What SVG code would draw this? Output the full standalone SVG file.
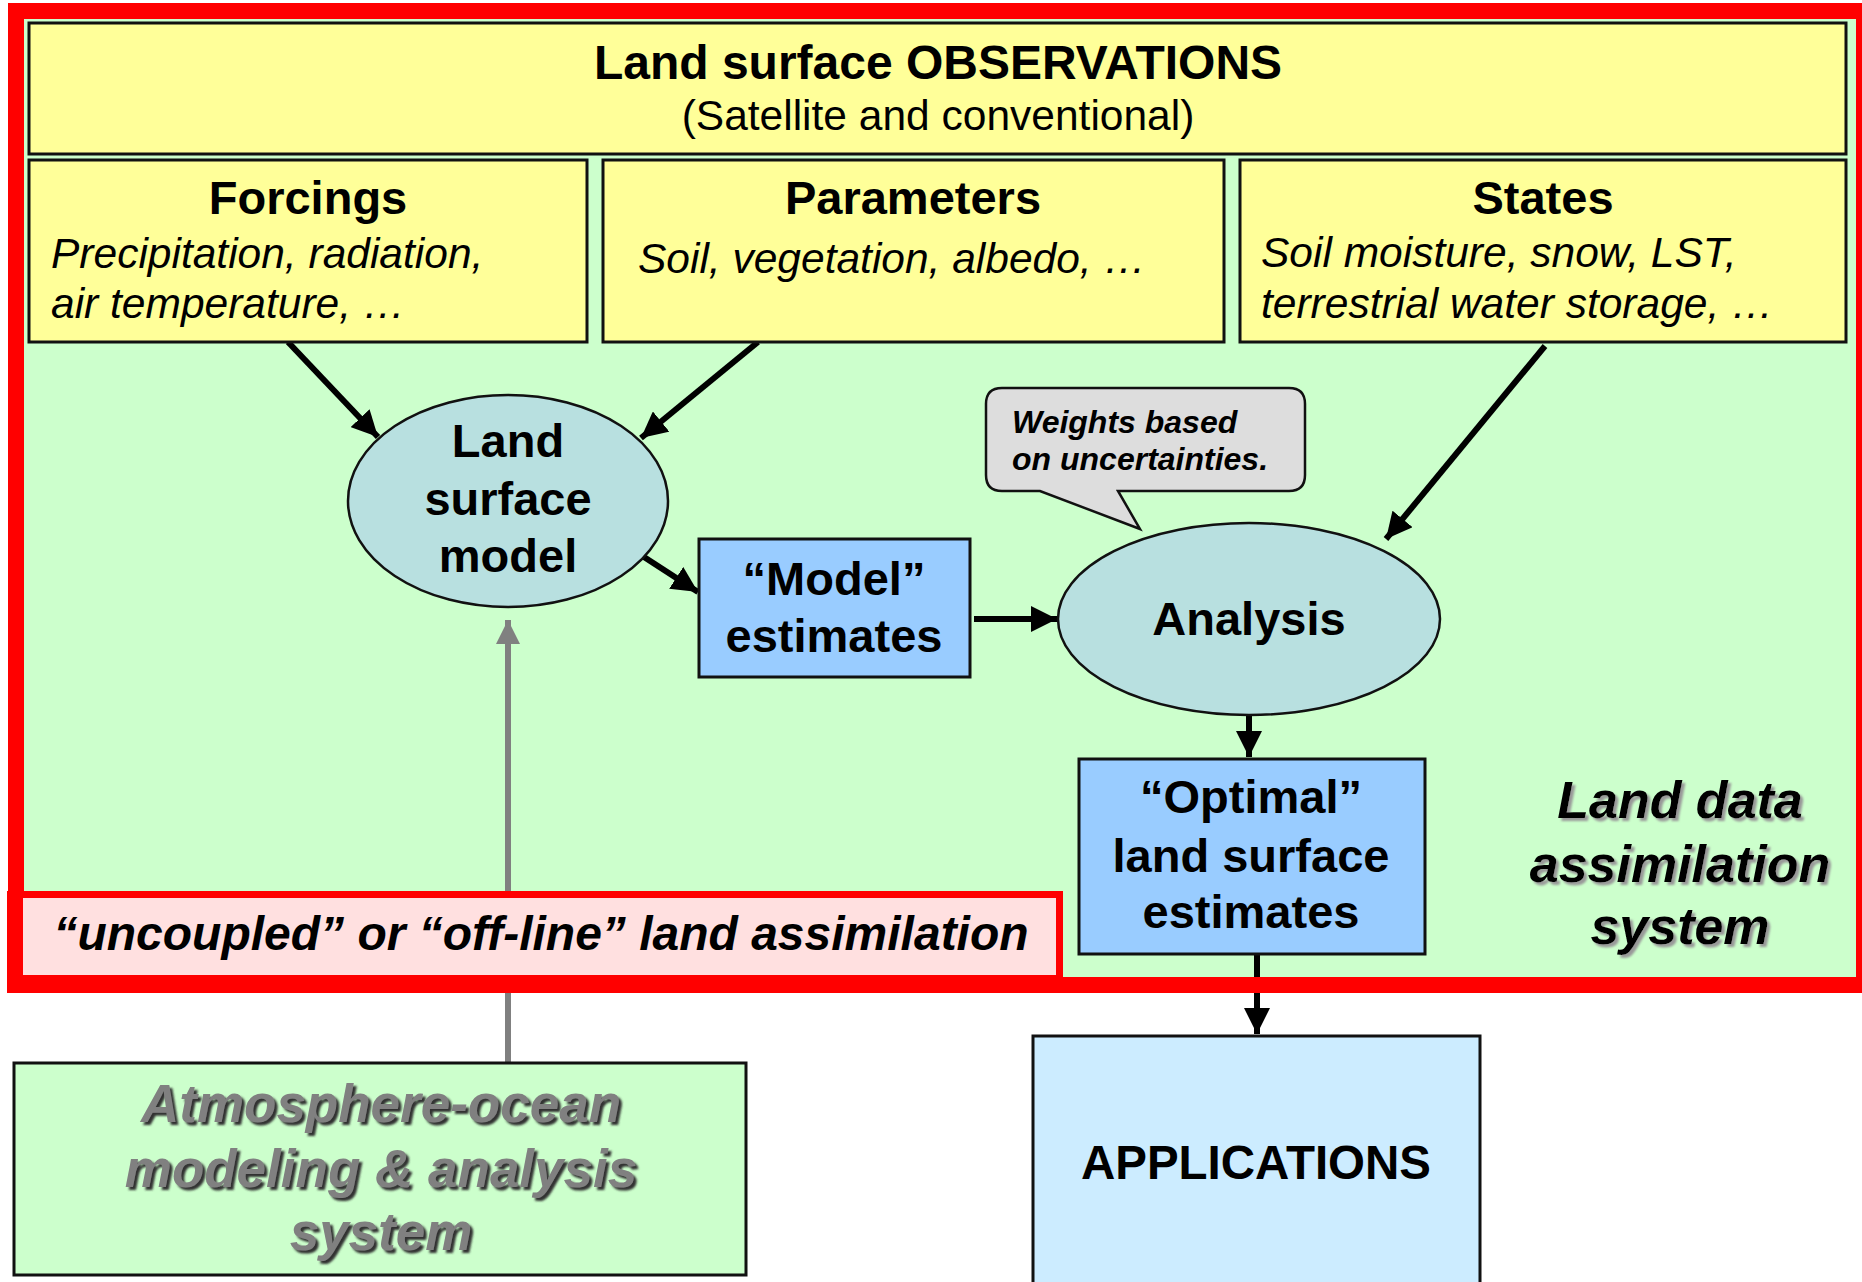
<svg xmlns="http://www.w3.org/2000/svg" width="1862" height="1282" viewBox="0 0 1862 1282">
<style>
.box{stroke:#111;stroke-width:3}
.yel{fill:#FFFF99}
.blue{fill:#99CCFF}
.ell{fill:#B8E0E0;stroke:#111;stroke-width:2.5}
text{font-family:"Liberation Sans",Arial,sans-serif;fill:#000}
.b{font-weight:bold}
.i{font-style:italic}
.h{font-size:47px;font-weight:bold;text-anchor:middle}
.body{font-size:42.5px;font-style:italic}
.c{text-anchor:middle}
.con{stroke:#000;stroke-width:6;fill:none}
</style>
<defs>
<marker id="ah" markerUnits="userSpaceOnUse" markerWidth="26" markerHeight="26" refX="26" refY="13" orient="auto">
<path d="M0,0 L26,13 L0,26 Z" fill="#000"/>
</marker>
<marker id="ahg" markerUnits="userSpaceOnUse" markerWidth="24" markerHeight="24" refX="24" refY="12" orient="auto">
<path d="M0,0 L24,12 L0,24 Z" fill="#808080"/>
</marker>
<filter id="sh" x="-5%" y="-20%" width="110%" height="140%">
<feDropShadow dx="3" dy="3" stdDeviation="1" flood-color="#999"/>
</filter>
<filter id="shg" x="-5%" y="-20%" width="110%" height="140%">
<feDropShadow dx="3" dy="3" stdDeviation="1" flood-color="#333"/>
</filter>
</defs>

<rect id="frame-bg" x="16" y="11" width="1848" height="974" fill="#CCFFCC"/>

<g id="connectors">
<line class="con" x1="288" y1="342" x2="378" y2="437" marker-end="url(#ah)"/>
<line class="con" x1="758" y1="342" x2="641" y2="438" marker-end="url(#ah)"/>
<line class="con" x1="1545" y1="346" x2="1386" y2="539" marker-end="url(#ah)"/>
<line class="con" x1="644" y1="557" x2="698" y2="592" marker-end="url(#ah)"/>
<line class="con" x1="974" y1="619" x2="1057" y2="619" marker-end="url(#ah)"/>
<line class="con" x1="1249" y1="716" x2="1249" y2="757" marker-end="url(#ah)"/>
<line class="con" x1="1257" y1="955" x2="1257" y2="1034" stroke-width="7" marker-end="url(#ah)"/>
<line x1="508" y1="1062" x2="508" y2="620" stroke="#808080" stroke-width="6" marker-end="url(#ahg)"/>
</g>

<g id="observations">
<rect class="box yel" x="29" y="23" width="1817" height="131"/>
<text class="h" x="938" y="79" style="font-size:48px">Land surface OBSERVATIONS</text>
<text class="c" x="938" y="130" font-size="42.5">(Satellite and conventional)</text>
</g>

<g id="forcings">
<rect class="box yel" x="29" y="160" width="558" height="182"/>
<text class="h" x="308" y="214">Forcings</text>
<text class="body" x="51" y="268">Precipitation, radiation,</text>
<text class="body" x="51" y="318">air temperature, …</text>
</g>

<g id="parameters">
<rect class="box yel" x="603" y="160" width="621" height="182"/>
<text class="h" x="913" y="214">Parameters</text>
<text class="body" x="638" y="273">Soil, vegetation, albedo, …</text>
</g>

<g id="states">
<rect class="box yel" x="1240" y="160" width="606" height="182"/>
<text class="h" x="1543" y="214">States</text>
<text class="body" x="1261" y="267">Soil moisture, snow, LST,</text>
<text class="body" x="1261" y="318">terrestrial water storage, …</text>
</g>

<g id="land-surface-model">
<ellipse class="ell" cx="508" cy="501" rx="160" ry="106"/>
<text class="h" x="508" y="457">Land</text>
<text class="h" x="508" y="515">surface</text>
<text class="h" x="508" y="572">model</text>
</g>

<g id="model-estimates">
<rect class="box blue" x="699" y="539" width="271" height="138"/>
<text class="h" x="834" y="595">“Model”</text>
<text class="h" x="834" y="652">estimates</text>
</g>

<g id="weights-callout">
<path d="M1002 388 H1289 Q1305 388 1305 404 V475 Q1305 491 1289 491 H1118 L1140 529 L1040 491 H1002 Q986 491 986 475 V404 Q986 388 1002 388 Z" fill="#DDDDDD" stroke="#111" stroke-width="2.5"/>
<text class="b i" x="1012" y="433" font-size="32">Weights based</text>
<text class="b i" x="1012" y="470" font-size="32">on uncertainties.</text>
</g>

<g id="analysis">
<ellipse class="ell" cx="1249" cy="619" rx="191" ry="96"/>
<text class="h" x="1249" y="635">Analysis</text>
</g>

<g id="optimal-estimates">
<rect class="box blue" x="1079" y="759" width="346" height="195"/>
<text class="h" x="1251" y="813">“Optimal”</text>
<text class="h" x="1251" y="872">land surface</text>
<text class="h" x="1251" y="928">estimates</text>
</g>

<g id="ldas-label" filter="url(#sh)">
<text class="b i c" x="1680" y="818" font-size="52">Land data</text>
<text class="b i c" x="1680" y="882" font-size="52">assimilation</text>
<text class="b i c" x="1680" y="944" font-size="52">system</text>
</g>

<rect id="frame-border" x="16" y="11" width="1848" height="974" fill="none" stroke="#FF0000" stroke-width="16"/>

<g id="uncoupled">
<rect x="7" y="891" width="1056" height="102" fill="#FF0000"/>
<rect x="23" y="898" width="1033" height="77" fill="#FFE0E0"/>
<text class="b i c" x="541" y="950" font-size="48">“uncoupled” or “off-line” land assimilation</text>
</g>

<g id="atmosphere-ocean">
<rect class="box" x="14" y="1063" width="732" height="212" fill="#CCFFCC"/>
<g filter="url(#shg)">
<text class="b i c" x="381" y="1122" font-size="53" style="fill:#808080">Atmosphere-ocean</text>
<text class="b i c" x="381" y="1187" font-size="53" style="fill:#808080">modeling &amp; analysis</text>
<text class="b i c" x="381" y="1250" font-size="53" style="fill:#808080">system</text>
</g>
</g>

<g id="applications">
<rect class="box" x="1033" y="1036" width="447" height="260" fill="#CCECFF"/>
<text class="b c" x="1256" y="1179" font-size="47.5">APPLICATIONS</text>
</g>
</svg>
